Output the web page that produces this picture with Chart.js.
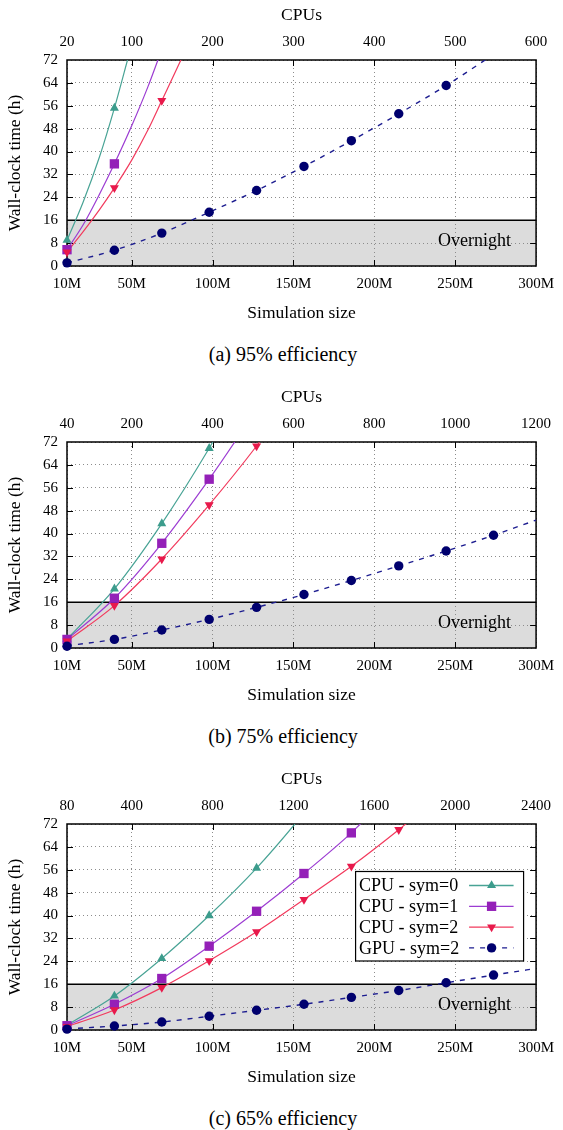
<!DOCTYPE html>
<html>
<head>
<meta charset="utf-8">
<script src="https://cdn.jsdelivr.net/npm/chart.js@4"></script>
<style>
body{margin:0;background:#fff;width:563px;height:1130px;position:relative;overflow:hidden}
canvas{position:absolute;left:0}
.cap{position:absolute;left:0;width:566px;text-align:center;font-family:"Liberation Serif",serif;font-size:20px;line-height:24px;color:#000}
</style>
</head>
<body>
<canvas id="effA" width="563" height="330" style="top:0px"></canvas>
<div class="cap" style="top:342px">(a) 95% efficiency</div>
<canvas id="effB" width="563" height="330" style="top:382px"></canvas>
<div class="cap" style="top:724px">(b) 75% efficiency</div>
<canvas id="effC" width="563" height="330" style="top:764px"></canvas>
<div class="cap" style="top:1106px">(c) 65% efficiency</div>
<script>
// simulation sizes (millions) of the runs
let sizes = [10, 39.3, 68.6, 97.9, 127.2, 156.5, 185.8, 215.1, 244.4, 273.7]
let seriesNames = ["CPU - sym=0", "CPU - sym=1", "CPU - sym=2", "GPU - sym=2"]
let xTicks = [10, 50, 100, 150, 200, 250, 300]
let yTicks = [0, 8, 16, 24, 32, 40, 48, 56, 64, 72]
let overnight = 16

// (a) 95% efficiency
let cpuA = [20, 100, 200, 300, 400, 500, 600]
let a_sym0 = [9.0, 55.2]
let a_sym1 = [5.7, 35.7]
let a_sym2 = [4.9, 27.3, 57.8]
let a_gpu = [1.1, 5.5, 11.5, 18.8, 26.4, 34.8, 43.8, 53.2, 63.1]
// fitted curves: [size, hours]
let a_fit0 = [[10,9.0],[20,22.4],[30,38],[39.3,55.2],[47.4,72],[50,77.5]]
let a_fit1 = [[10,5.7],[20,14.4],[30,25],[39.3,35.7],[50,49],[60,62.6],[66.2,72],[70,78]]
let a_fit2 = [[10,4.9],[20,12],[30,19.6],[39.3,27.3],[50,37],[60,47.5],[68.6,57.8],[80.4,72],[85,77.8]]
let a_fitg = [[10,1.1],[39.3,5.5],[68.6,11.5],[97.9,18.8],[127.2,26.4],[156.5,34.8],[185.8,43.8],[215.1,53.2],[244.4,63.1],[268.5,72],[275,74.5]]

// (b) 75% efficiency
let cpuB = [40, 200, 400, 600, 800, 1000, 1200]
let b_sym0 = [3.1, 20.7, 43.5, 69.8]
let b_sym1 = [3.0, 17.4, 36.6, 59.0]
let b_sym2 = [2.4, 14.8, 31.1, 50.0, 70.6]
let b_gpu = [0.6, 3.0, 6.3, 10.0, 14.2, 18.7, 23.6, 28.7, 33.9, 39.4]
let b_fit0 = [[10,3.1],[39.3,20.7],[68.6,43.5],[97.9,69.8],[100.1,72],[105,77.3]]
let b_fit1 = [[10,3.0],[39.3,17.4],[68.6,36.6],[97.9,59.0],[113.7,72],[120,77.5]]
let b_fit2 = [[10,2.4],[39.3,14.8],[68.6,31.1],[97.9,50.0],[127.2,70.6],[129,72],[135,76.7]]
let b_fitg = [[10,0.8],[39.3,3.0],[68.6,6.3],[97.9,10.0],[127.2,14.2],[156.5,18.7],[185.8,23.6],[215.1,28.7],[244.4,33.9],[273.7,39.4],[300,44.7]]

// (c) 65% efficiency
let cpuC = [80, 400, 800, 1200, 1600, 2000, 2400]
let c_sym0 = [1.7, 11.9, 25.0, 40.0, 56.6]
let c_sym1 = [1.5, 9.0, 18.0, 29.3, 41.5, 54.7, 68.9]
let c_sym2 = [1.2, 7.0, 14.8, 24.2, 34.3, 45.6, 57.2, 70.0]
let c_gpu = [0.3, 1.4, 2.8, 4.8, 6.9, 9.0, 11.4, 13.8, 16.5, 19.2]
let c_fit0 = [[10,1.7],[39.3,11.9],[68.6,25.0],[97.9,40.0],[127.2,56.6],[150.9,72],[155,74.9]]
let c_fit1 = [[10,1.5],[39.3,9.0],[68.6,18.0],[97.9,29.3],[127.2,41.5],[156.5,54.7],[185.8,68.9],[191.3,72],[195,74]]
let c_fit2 = [[10,1.2],[39.3,7.0],[68.6,14.8],[97.9,24.2],[127.2,34.3],[156.5,45.6],[185.8,57.2],[215.1,70.0],[220,72.3],[225,74.6]]
let c_fitg = [[10,0.4],[39.3,1.4],[68.6,2.8],[97.9,4.8],[127.2,6.9],[156.5,9.0],[185.8,11.4],[215.1,13.8],[244.4,16.5],[273.7,19.2],[300,21.5]]

let serif = '"Liberation Serif", serif'
let styles = [
  {color:"#3c9c8c", line:"#48a395", point:"triangle", rot:0, r:5.2},
  {color:"#9420b8", line:"#9c3cd2", point:"rect", rot:0, r:6.6},
  {color:"#e8194b", line:"#f23a5d", point:"triangle", rot:180, r:5.2},
  {color:"#00006e", line:"#1d1d90", point:"circle", rot:0, r:4.7, dash:[5,6]}
]

function pts(ys){ return ys.map((y,i)=>({x:sizes[i], y:y})) }
function pairs(arr){ return arr.map(p=>({x:p[0], y:p[1]})) }

function marker(ctx, s, x, y){
  ctx.fillStyle = s.color
  if(Chart.helpers && Chart.helpers.drawPoint){
    Chart.helpers.drawPoint(ctx, {pointStyle:s.point, rotation:s.rot, radius:s.r, borderWidth:0}, x, y)
    return
  }
  ctx.beginPath(); ctx.arc(x, y, s.r, 0, Math.PI*2); ctx.fill()
}

let framePlugin = {
  id: "frame",
  beforeDraw(chart){
    let {ctx, chartArea:a, scales} = chart
    let y16 = scales.y.getPixelForValue(overnight)
    ctx.save()
    ctx.fillStyle = "#dcdcdc"
    ctx.fillRect(a.left, y16, a.right - a.left, a.bottom - y16)
    ctx.restore()
  },
  beforeDatasetsDraw(chart){
    let {ctx, chartArea:a, scales} = chart
    ctx.save()
    ctx.strokeStyle = "#000"
    ctx.lineWidth = 1.5
    let y16 = scales.y.getPixelForValue(overnight)
    ctx.beginPath(); ctx.moveTo(a.left, y16); ctx.lineTo(a.right, y16); ctx.stroke()
    ctx.strokeRect(a.left, a.top, a.right - a.left, a.bottom - a.top)

    // inward tick marks on all four sides
    ctx.lineWidth = 1
    ctx.beginPath()
    xTicks.slice(1, -1).forEach(v=>{
      let px = Math.round(scales.x.getPixelForValue(v)) + 0.5
      ctx.moveTo(px, a.bottom); ctx.lineTo(px, a.bottom - 6)
    })
    scales.x2.ticks.slice(1, -1).forEach(t=>{
      let px = Math.round(scales.x2.getPixelForValue(t.value)) + 0.5
      ctx.moveTo(px, a.top); ctx.lineTo(px, a.top + 6)
    })
    yTicks.slice(1, -1).forEach(v=>{
      let py = Math.round(scales.y.getPixelForValue(v)) + 0.5
      ctx.moveTo(a.left, py); ctx.lineTo(a.left + 6, py)
      ctx.moveTo(a.right, py); ctx.lineTo(a.right - 6, py)
    })
    ctx.stroke()

    ctx.fillStyle = "#000"
    ctx.font = "18px " + serif
    ctx.textAlign = "right"
    ctx.textBaseline = "middle"
    ctx.fillText("Overnight", a.right - 25, scales.y.getPixelForValue(8) - 2)
    ctx.restore()
  },
  afterDatasetsDraw(chart, args, opts){
    if(!opts.legend) return
    let {ctx, chartArea:a} = chart
    let bx = a.right - 180.5, by = a.top + 47.5, bw = 168, bh = 89.5
    ctx.save()
    ctx.fillStyle = "#fff"
    ctx.fillRect(bx, by, bw, bh)
    ctx.strokeStyle = "#000"
    ctx.lineWidth = 1.2
    ctx.strokeRect(bx, by, bw, bh)
    ctx.font = "18px " + serif
    ctx.textAlign = "left"
    ctx.textBaseline = "middle"
    seriesNames.forEach((name,i)=>{
      let s = styles[i]
      let y = by + 14 + i*20.8
      ctx.fillStyle = "#000"
      ctx.fillText(name, bx + 3.5, y + 1)
      ctx.strokeStyle = s.line
      ctx.lineWidth = 1.3
      ctx.setLineDash(s.dash || [])
      ctx.beginPath(); ctx.moveTo(bx + 113.5, y); ctx.lineTo(bx + 158, y); ctx.stroke()
      ctx.setLineDash([])
      marker(ctx, s, bx + 136, y)
    })
    ctx.restore()
  }
}

function makeChart(id, cpuTicks, marks, fits, legend){

let datasets = []

marks.forEach((m,i)=>{
  let s = styles[i]
  datasets.push({
    label: seriesNames[i],
    data: pts(m),
    showLine: false,
    pointStyle: s.point,
    pointRotation: s.rot,
    pointRadius: s.r,
    pointBackgroundColor: s.color,
    pointBorderColor: s.color,
    pointBorderWidth: 0,
    clip: false,
    order: 4 - i
  })
})

fits.forEach((f,i)=>{
  let s = styles[i]
  datasets.push({
    label: seriesNames[i] + " fit",
    data: pairs(f),
    borderColor: s.line,
    borderWidth: i == 3 ? 1.4 : 1.2,
    borderDash: s.dash || [],
    pointRadius: 0,
    fill: false,
    cubicInterpolationMode: "monotone",
    order: 10 + i
  })
})

let tickFont = {family: serif, size: 15}
let titleFont = {family: serif, size: 17.5}

new Chart(document.getElementById(id), {
  type: "line",
  data: {datasets: datasets},
  options: {
    responsive: false,
    animation: false,
    events: [],
    layout: {padding: {left: 0, right: 21, top: 0, bottom: 0}},
    plugins: {
      legend: {display: false},
      tooltip: {enabled: false},
      frame: {legend: legend}
    },
    scales: {
      x: {
        type: "linear", position: "bottom", min: xTicks[0], max: xTicks[xTicks.length-1],
        afterBuildTicks: s => { s.ticks = xTicks.map(v=>({value:v})) },
        afterFit: s => { s.height = 64 },
        ticks: {color: "#000", font: tickFont, padding: 9, maxRotation: 0, autoSkip: false, callback: v => v + "M"},
        grid: {color: "#8c8c8c", lineWidth: 1, drawTicks: false},
        border: {display: false, dash: [1, 3]},
        title: {display: true, text: "Simulation size", color: "#000", font: titleFont, padding: {top: 0, bottom: 6}}
      },
      x2: {
        type: "linear", position: "top", min: cpuTicks[0], max: cpuTicks[cpuTicks.length-1],
        afterBuildTicks: s => { s.ticks = cpuTicks.map(v=>({value:v})) },
        afterFit: s => { s.height = 60 },
        ticks: {color: "#000", font: tickFont, padding: 9, maxRotation: 0, autoSkip: false, callback: v => String(v)},
        grid: {display: false, drawTicks: false},
        border: {display: false},
        title: {display: true, text: "CPUs", color: "#000", font: titleFont, padding: {top: 5, bottom: 0}}
      },
      y: {
        type: "linear", min: yTicks[0], max: yTicks[yTicks.length-1],
        afterBuildTicks: s => { s.ticks = yTicks.map(v=>({value:v})) },
        afterFit: s => { s.width = 67 },
        ticks: {color: "#000", font: tickFont, padding: 9, autoSkip: false},
        grid: {color: "#8c8c8c", lineWidth: 1, drawTicks: false},
        border: {display: false, dash: [1, 3]},
        title: {display: true, text: "Wall-clock time (h)", color: "#000", font: titleFont, padding: {top: 5, bottom: 0}}
      }
    }
  },
  plugins: [framePlugin]
})

}

makeChart("effA", cpuA, [a_sym0, a_sym1, a_sym2, a_gpu], [a_fit0, a_fit1, a_fit2, a_fitg], false)
makeChart("effB", cpuB, [b_sym0, b_sym1, b_sym2, b_gpu], [b_fit0, b_fit1, b_fit2, b_fitg], false)
makeChart("effC", cpuC, [c_sym0, c_sym1, c_sym2, c_gpu], [c_fit0, c_fit1, c_fit2, c_fitg], true)
</script>
</body>
</html>
